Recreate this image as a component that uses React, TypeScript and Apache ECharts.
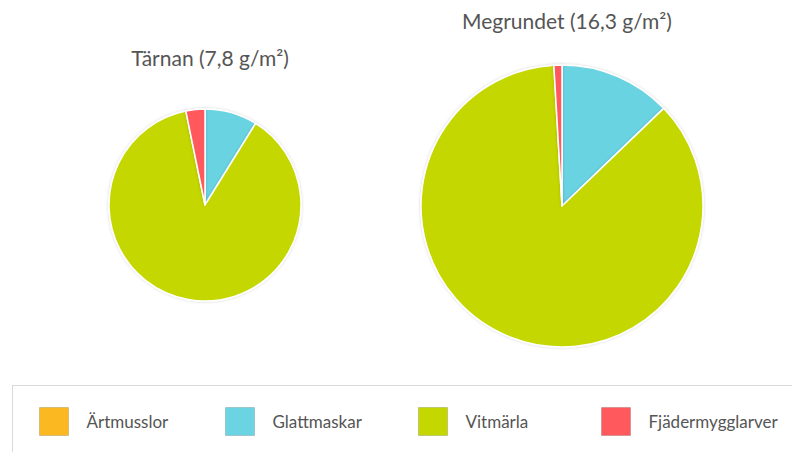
import React, { useEffect, useRef } from "react";
import * as echarts from "echarts";

const categories = ["Ärtmusslor", "Glattmaskar", "Vitmärla", "Fjädermygglarver"];
const colors = ["#FBB820", "#6BD3E2", "#C4D700", "#FF585D"];
const tarnanValues = [0, 0.69, 6.86, 0.25];
const megrundetValues = [0, 2.09, 14.06, 0.15];
const titles = ["Tärnan (7,8 g/m²)", "Megrundet (16,3 g/m²)"];
const legendLefts = [39, 225, 418, 601];

const FONT = "Lato, 'Open Sans', sans-serif";

export default function App() {
  const ref = useRef<HTMLDivElement>(null);
  useEffect(() => {
    if (!ref.current) return;
    const chart = echarts.init(ref.current, null, { renderer: "svg" });
    const mk = (vals: number[]) =>
      vals.map((v, i) => ({ name: categories[i], value: v, itemStyle: { color: colors[i] } }));
    const pieCommon = {
      type: "pie",
      startAngle: 90,
      clockwise: true,
      label: { show: false },
      labelLine: { show: false },
      emphasis: { disabled: true },
      itemStyle: {
        borderColor: "#ffffff",
        borderWidth: 1.5,
        shadowBlur: 3,
        shadowColor: "rgba(0,0,0,0.18)",
      },
    };
    chart.setOption({
      animation: false,
      textStyle: { fontFamily: FONT },
      title: [
        {
          text: titles[0],
          left: 205,
          top: 42,
          textAlign: "center",
          textStyle: { fontFamily: FONT, fontSize: 21, fontWeight: "normal", color: "#555555" },
        },
        {
          text: titles[1],
          left: 562,
          top: 5,
          textAlign: "center",
          textStyle: { fontFamily: FONT, fontSize: 21, fontWeight: "normal", color: "#555555" },
        },
      ],
      legend: categories.map((c, i) => ({
        data: [c],
        left: legendLefts[i],
        top: 407,
        orient: "horizontal",
        icon: "rect",
        itemWidth: 29,
        itemHeight: 28,
        selectedMode: false,
        padding: 0,
        itemStyle: { borderColor: "rgba(0,0,0,0.15)", borderWidth: 1 },
        textStyle: {
          fontFamily: FONT,
          fontSize: 17,
          color: "#555555",
          padding: [0, 0, 0, 13],
        },
      })),
      graphic: [
        {
          type: "line",
          shape: { x1: 12, y1: 385.5, x2: 792, y2: 385.5 },
          style: { stroke: "#d9d9d9", lineWidth: 1 },
        },
        {
          type: "line",
          shape: { x1: 12.5, y1: 385, x2: 12.5, y2: 452 },
          style: { stroke: "#d9d9d9", lineWidth: 1 },
        },
      ],
      series: [
        { ...pieCommon, name: "Tärnan", center: [205, 205], radius: [0, 96], data: mk(tarnanValues) },
        { ...pieCommon, name: "Megrundet", center: [562, 206], radius: [0, 141], data: mk(megrundetValues) },
      ],
    });
    return () => chart.dispose();
  }, []);
  return (
    <div
      ref={ref}
      style={{ position: "fixed", left: 0, top: 0, width: 792, height: 452, background: "#ffffff" }}
    />
  );
}
